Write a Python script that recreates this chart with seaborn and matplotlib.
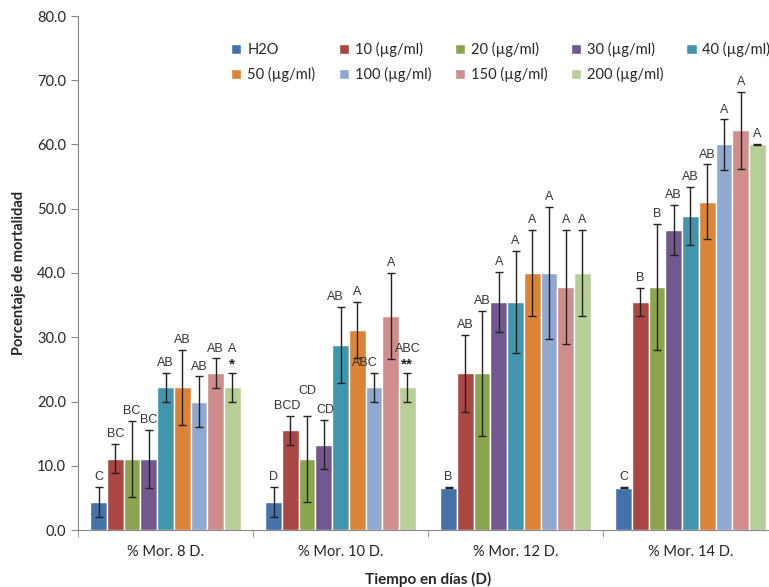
import pandas as pd
import matplotlib
matplotlib.use("Agg")
import matplotlib.pyplot as plt
import seaborn as sns

# Chart data
dias = ["% Mor. 8 D.", "% Mor. 10 D.", "% Mor. 12 D.", "% Mor. 14 D."]
tratamientos = ["H2O", "10 (µg/ml)", "20 (µg/ml)", "30 (µg/ml)", "40 (µg/ml)",
                "50 (µg/ml)", "100 (µg/ml)", "150 (µg/ml)", "200 (µg/ml)"]

# mortality per treatment, one list per day
mort_8 = [4.4, 11.1, 11.1, 11.1, 22.2, 22.2, 20.0, 24.4, 22.2]
mort_10 = [4.4, 15.5, 11.1, 13.3, 28.8, 31.1, 22.2, 33.3, 22.2]
mort_12 = [6.6, 24.4, 24.4, 35.5, 35.5, 40.0, 40.0, 37.8, 40.0]
mort_14 = [6.6, 35.5, 37.8, 46.7, 48.9, 51.1, 60.0, 62.2, 60.0]

# error (standard deviation) per treatment
err_8 = [2.3, 2.3, 5.9, 4.5, 2.2, 5.8, 3.9, 2.3, 2.2]
err_10 = [2.3, 2.3, 6.7, 3.8, 5.9, 4.4, 2.2, 6.7, 2.2]
err_12 = [0.1, 6.0, 9.7, 4.7, 8.0, 6.7, 10.3, 8.9, 6.7]
err_14 = [0.1, 2.2, 9.8, 3.9, 4.5, 5.8, 3.9, 6.0, 0.1]

# significance letters (and stars under them)
let_8 = ["C", "BC", "BC", "BC", "AB", "AB", "AB", "AB", "A"]
let_10 = ["D", "BCD", "CD", "CD", "AB", "A", "ABC", "A", "ABC"]
let_12 = ["B", "AB", "AB", "A", "A", "A", "A", "A", "A"]
let_14 = ["C", "B", "B", "AB", "AB", "AB", "A", "A", "A"]
estrellas = {(0, 8): "*", (1, 8): "**"}

colores = ["#4472A8", "#AA4644", "#8BA54E", "#72588F", "#4196AE",
           "#DB8438", "#8FA9D1", "#CF8D8C", "#B7CE97"]

valores = [mort_8, mort_10, mort_12, mort_14]
errores = [err_8, err_10, err_12, err_14]
letras = [let_8, let_10, let_12, let_14]

rows = []
for d, vals in zip(dias, valores):
    for t, v in zip(tratamientos, vals):
        rows.append({"dia": d, "trat": t, "mort": v})
df = pd.DataFrame(rows)

sns.set_style("white")
plt.rcParams["font.family"] = ["Lato", "DejaVu Sans"]

fig = plt.figure(figsize=(7.69, 5.87), dpi=100)
ax = fig.add_axes([78 / 769, 1 - 530 / 587, 700 / 769, 514 / 587])

sns.barplot(data=df, x="dia", y="mort", hue="trat", order=dias,
            hue_order=tratamientos, palette=colores, width=0.86,
            saturation=1, errorbar=None, ax=ax)

# small nudges so crowded letters don't collide (group, treatment): (dx, dy)
ajuste = {(1, 2): (0.0, 2.3), (1, 4): (-0.03, 0.0), (1, 6): (-0.05, 0.0),
          (1, 1): (-0.02, 0.0), (1, 3): (0.01, 0.0)}

# error bars and letters on top of each bar
# t = treatment (one container per hue level), g = day group
barras = list(ax.containers)
for t, cont in enumerate(barras):
    for g, bar in enumerate(cont.patches):
        x = bar.get_x() + bar.get_width() / 2
        h = bar.get_height()
        e = errores[g][t]
        ax.errorbar(x, h, yerr=e, fmt="none", ecolor="#222222",
                    elinewidth=1, capsize=3, capthick=1)
        dx, dy = ajuste.get((g, t), (0, 0))
        y0 = h + e + 0.6 + dy
        if (g, t) in estrellas:
            ax.text(x + dx, h + e + 0.2, estrellas[(g, t)], ha="center", va="bottom",
                    fontsize=11, fontweight="bold", family="Liberation Sans",
                    color="#222222")
            y0 += 2.2
        ax.text(x + dx, y0, letras[g][t], ha="center", va="bottom",
                fontsize=9, family="Liberation Sans", color="#333333")

ax.set_ylim(0, 80)
ax.set_xlim(-0.5, 3.5)
ax.set_yticks(range(0, 81, 10))
ax.set_yticklabels([f"{v:.1f}" for v in range(0, 81, 10)], fontsize=10.5)
ax.set_xticks(range(4))
ax.set_xticklabels(dias, fontsize=10.5)
ax.set_xticks([-0.5, 0.5, 1.5, 2.5, 3.5], minor=True)
ax.tick_params(axis="x", which="major", length=0, pad=11)
ax.tick_params(axis="x", which="minor", length=5, color="#888888", direction="out", bottom=True)
ax.tick_params(axis="y", length=5, color="#888888", direction="out", left=True)

ax.set_xlabel("Tiempo en días (D)", fontsize=11, fontweight="bold", labelpad=9)
ax.set_ylabel("Porcentaje de mortalidad", fontsize=10.5, fontweight="bold", labelpad=8)

for s in ["top", "right"]:
    ax.spines[s].set_visible(False)
for s in ["left", "bottom"]:
    ax.spines[s].set_color("#888888")

# legend in two rows, filled row by row
handles, labels = ax.get_legend_handles_labels()
orden = [0, 5, 1, 6, 2, 7, 3, 8, 4]
ax.legend([handles[k] for k in orden], [labels[k] for k in orden], ncol=5,
          frameon=False, fontsize=10.5, handlelength=0.7, handleheight=0.7,
          handletextpad=0.4, columnspacing=1.6, labelspacing=0.7,
          loc="upper left", bbox_to_anchor=(0.2, 0.975))

fig.savefig("out.png", dpi=100)
